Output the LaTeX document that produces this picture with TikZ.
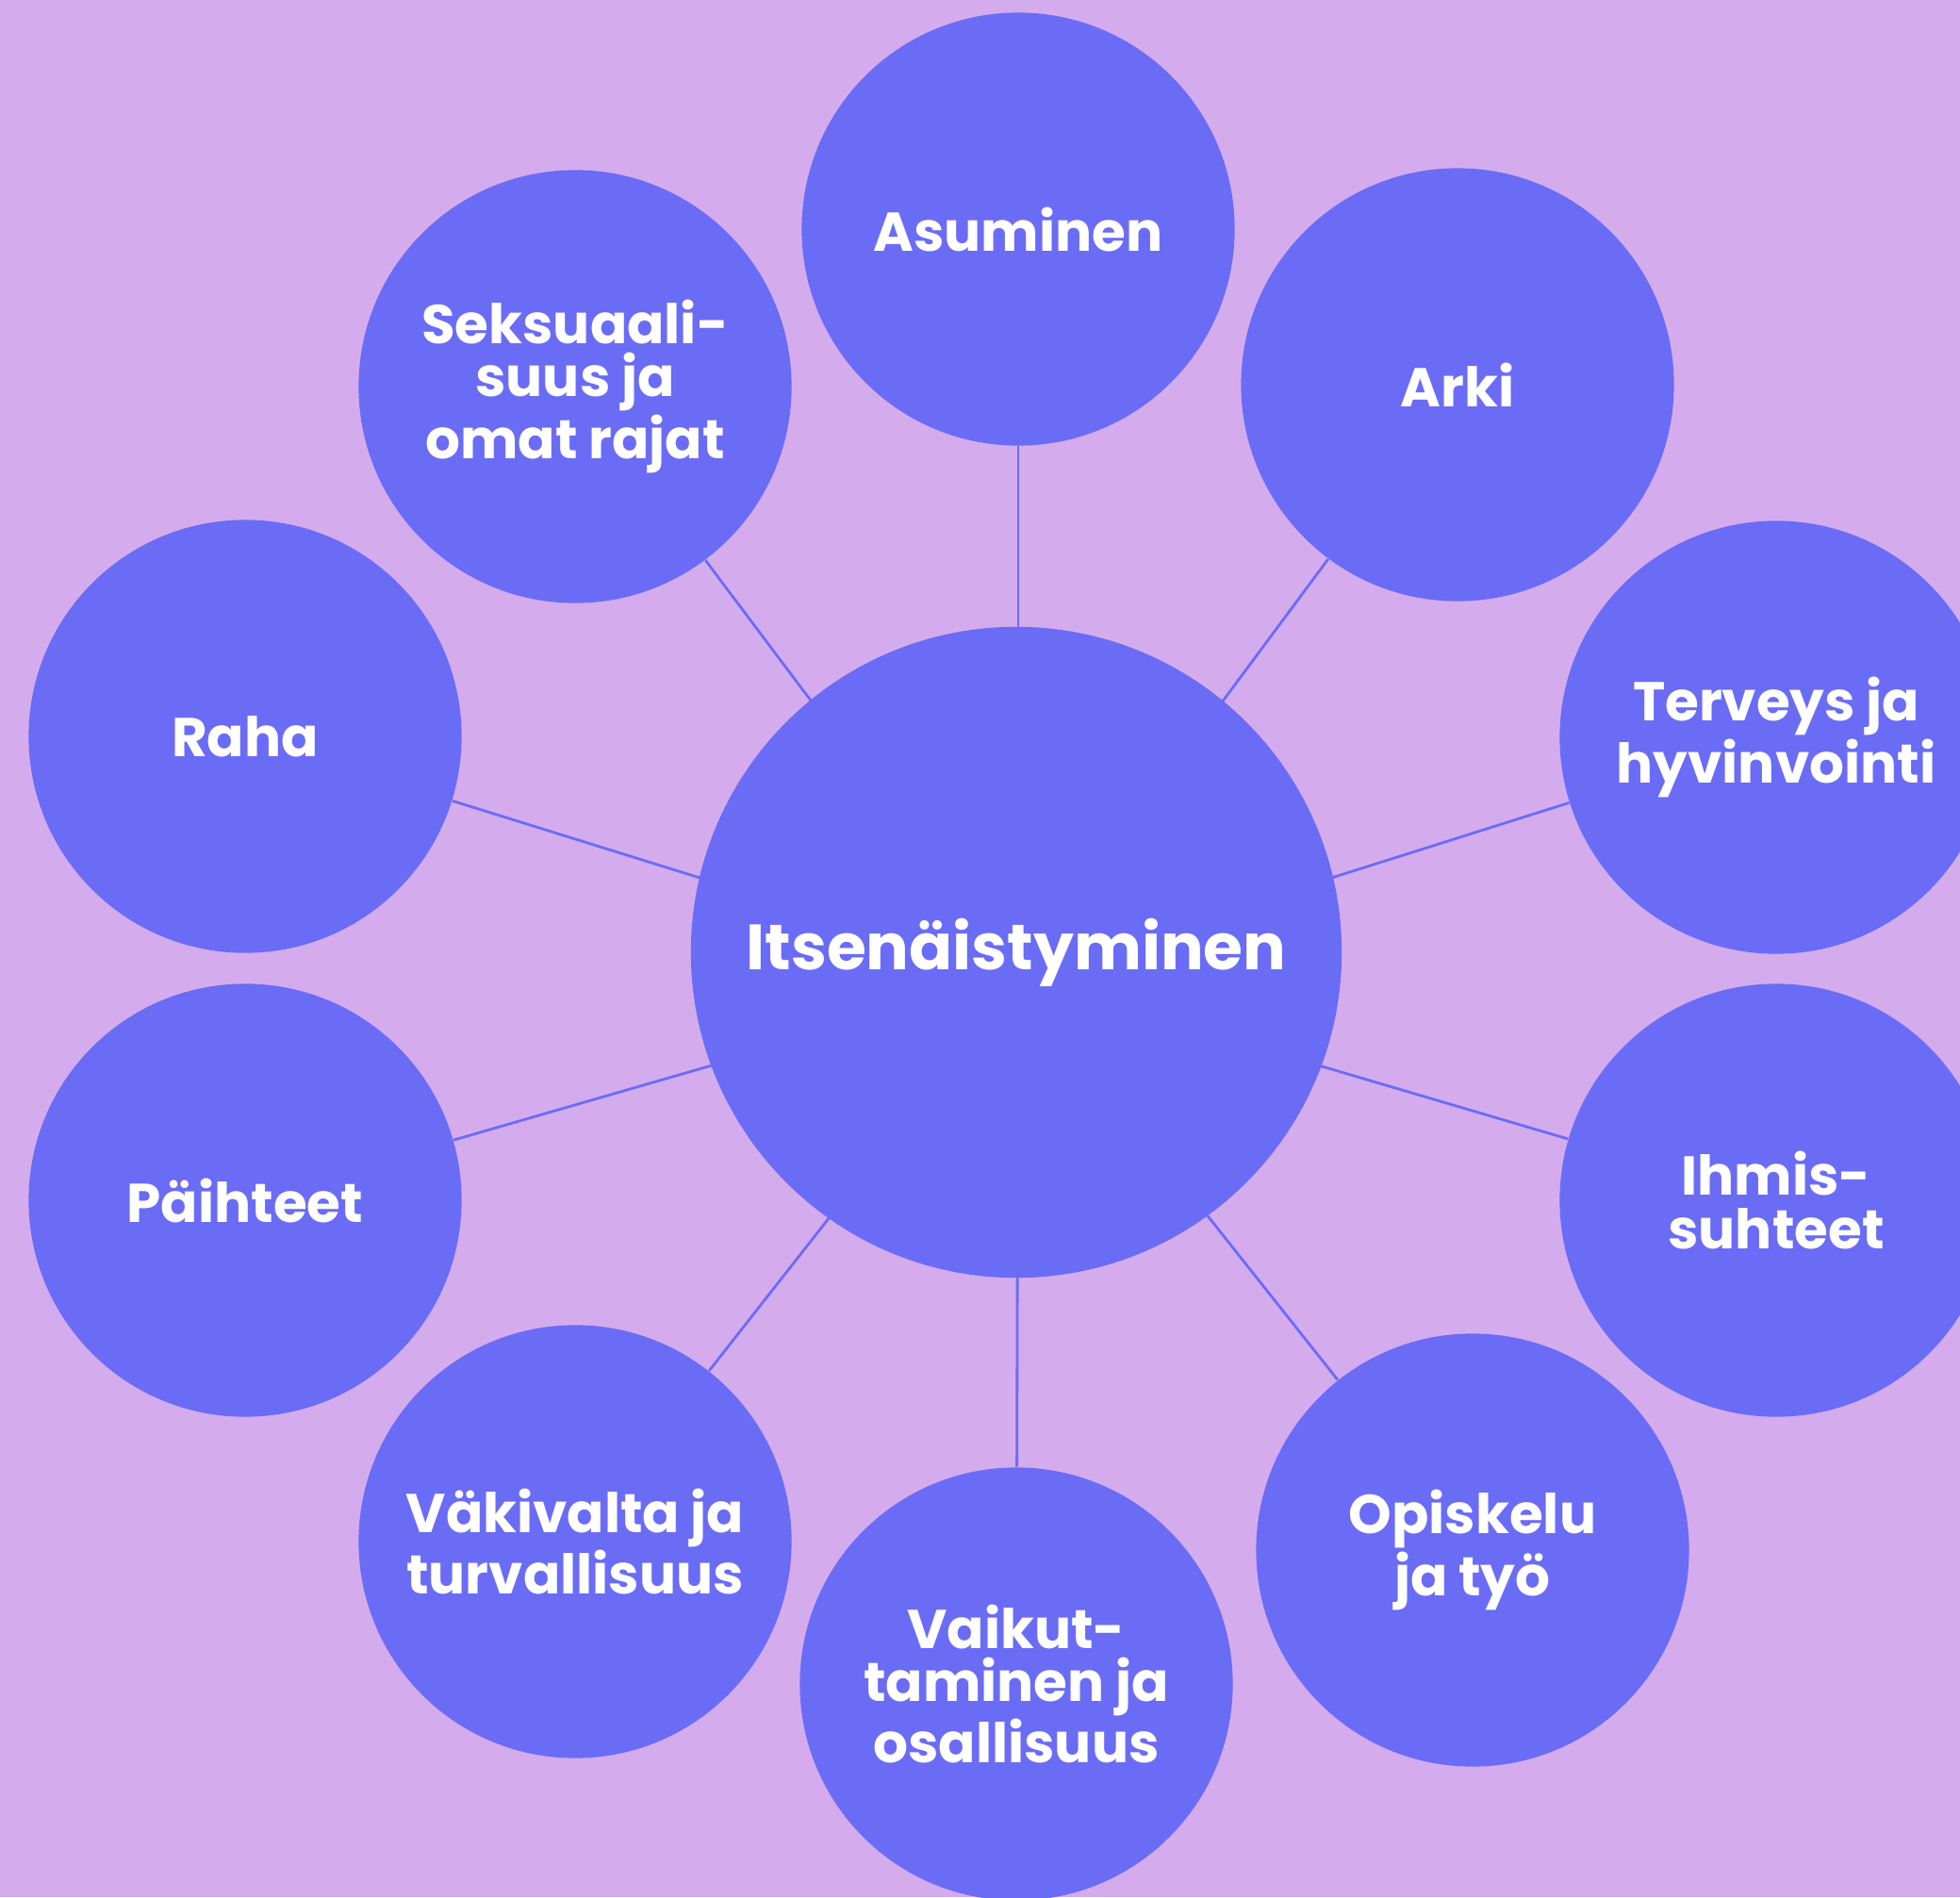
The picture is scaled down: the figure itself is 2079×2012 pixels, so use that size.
\documentclass[tikz,border=0pt]{standalone}
\usepackage{fontspec}
\setmainfont{Poppins}
\usetikzlibrary{positioning}
\definecolor{bgpurple}{HTML}{D4ACEE}
\definecolor{topicblue}{HTML}{6A6CF6}
\newcommand\tightwords{\spaceskip=0.2em plus 0.05em\relax}
\pgfdeclarelayer{backdrop}
\pgfdeclarelayer{spokes}
\pgfsetlayers{backdrop,spokes,main}

\begin{document}
\begin{tikzpicture}[
    x=0.01cm, y=-0.01cm,
    topic/.style={circle, fill=topicblue, minimum size=4.59cm, inner sep=0pt,
      text=white, align=center,
      font=\bfseries\fontsize{16.5}{16}\selectfont\tightwords},
    hub/.style={topic, minimum size=6.9cm, font=\bfseries\fontsize{19.3}{22}\selectfont},
    link/.style={draw=topicblue, line width=0.8pt}
  ]

  \clip (0,0) rectangle (2079,2012);
  \begin{pgfonlayer}{backdrop}
    \fill[bgpurple] (0,0) rectangle (2079,2012);
  \end{pgfonlayer}

  \node[hub] (itse) at (1078,1010) {Itsenäistyminen};
  % the spokes all aim a bit below the hub centre
  \coordinate (focus) at (1080,1036);

  \node[topic] (asu) at (1080,243) {Asuminen};
  \node[topic] (arki) at (1546,408) {Arki};
  \node[topic] (terv) at (1884,782) {Terveys ja\\hyvinvointi};
  \node[topic] (ihm) at (1884,1273) {Ihmis-\\suhteet};
  \node[topic] (opis) at (1562,1644) {Opiskelu\\ja työ};
  \node[topic] (vaik) at (1078,1786) {Vaikut-\\taminen ja\\osallisuus};
  \node[topic] (vaki) at (610,1635) {Väkivalta ja\\turvallisuus};
  \node[topic] (paih) at (260,1273) {Päihteet};
  \node[topic] (raha) at (260,781) {Raha};
  \node[topic] (seks) at (610,410) {Seksuaali-\\suus ja\\omat rajat};

  \begin{pgfonlayer}{spokes}
    \foreach \t in {asu, arki, terv, ihm, opis, vaik, vaki, paih, raha, seks}
      \draw[link] (focus) -- (\t);
  \end{pgfonlayer}

\end{tikzpicture}
\end{document}
